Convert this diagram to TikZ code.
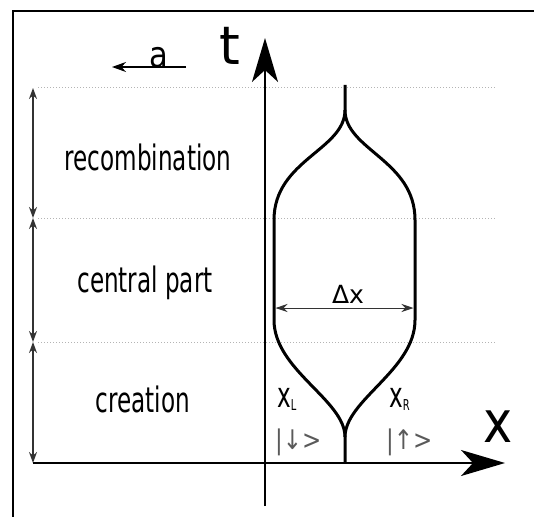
\documentclass[tikz,border=0pt]{standalone}
\usepackage{fontspec}
\setmainfont{DejaVu Sans}
\newfontfamily\narrowfont[FakeStretch=0.66]{DejaVu Sans}
\newfontfamily\axisfont[FakeStretch=0.85]{DejaVu Sans}
\usetikzlibrary{positioning,arrows.meta}
\definecolor{cDots}{HTML}{B4B4B4}
\definecolor{cGuide}{HTML}{333333}
\definecolor{cKet}{HTML}{5A5A5A}

\begin{document}
\begin{tikzpicture}[x=1pt,y=-1pt,
    phase/.style={anchor=base,inner sep=0pt,font=\narrowfont\fontsize{35}{35}\selectfont},
    ket/.style={anchor=base,inner sep=0pt,text=cKet,font=\axisfont\fontsize{27}{27}\selectfont},
    axis/.style={line width=2pt,-{Stealth[length=44pt,width=26pt,inset=12pt]}},
    span/.style={cGuide,line width=1.3pt,{Stealth[length=11pt,width=8pt]}-{Stealth[length=11pt,width=8pt]}},
    level/.style={cDots,line width=1pt,dotted},
    world/.style={line width=3pt,line join=round}]
  \useasboundingbox (0,0) rectangle (534,516);
  % frame
  \coordinate (fb) at (13,517);
  \coordinate (fc) at (13,11);
  \coordinate (fr) at (535,11);
  \draw[line width=2pt] (fb) -- (fc) -- (fr);

  % time levels
  \foreach \y [count=\i] in {88,218,342}{
    \coordinate (l\i) at (38,\y);
    \coordinate (r\i) at (495,\y);
    \draw[level] (l\i) -- (r\i);
  }
  \coordinate (s0) at (33,88);
  \coordinate (s1) at (33,218);
  \coordinate (s2) at (33,342);
  \coordinate (s3) at (33,463);
  \draw[span] (s0) -- (s1);
  \draw[span] (s1) -- (s2);
  \draw[span] (s2) -- (s3);

  \node[phase] (rec) at (148,170) {recombination};
  \node[phase] (cen) at (145,292) {central part};
  \node[phase] (cre) at (143,412) {creation};

  % axes
  \coordinate (tb) at (265,506);
  \coordinate (tt) at (265,38);
  \coordinate (xt) at (505,463);
  \draw[axis] (tb) -- (tt);
  \draw[axis] (s3) -- (xt);
  \node[anchor=base,inner sep=0pt,font=\fontsize{53}{53}\selectfont] (tlab) at (230,65) {t};
  \node[anchor=base,inner sep=0pt,font=\axisfont\fontsize{58}{58}\selectfont] (xlab) at (498,442) {x};

  % drift
  \coordinate (a0) at (186,67);
  \coordinate (a1) at (112,67);
  \draw[line width=1.5pt,-{Stealth[length=14pt,width=10pt]}] (a0) -- (a1);
  \node[anchor=base,inner sep=0pt,font=\axisfont\fontsize{36}{36}\selectfont] (alab) at (159,68) {a};

  % world lines of the pair
  \coordinate (top) at (345,85);
  \coordinate (ct) at (345,110);
  \coordinate (cb) at (345,437);
  \coordinate (bot) at (345,463);
  \coordinate (lu) at (274,220);
  \coordinate (ll) at (274,320);
  \coordinate (ru) at (415,220);
  \coordinate (rl) at (415,320);
  \draw[world] (top) -- (ct) .. controls (345,150) and (274,160) .. (lu) -- (ll)
    .. controls (274,370) and (345,400) .. (cb) -- (bot);
  \draw[world] (ct) .. controls (345,150) and (415,160) .. (ru) -- (rl)
    .. controls (415,370) and (345,400) .. (cb);

  % width
  \coordinate (wl) at (275.5,308);
  \coordinate (wr) at (413.5,308);
  \draw[cGuide,line width=1pt,{Stealth[length=12pt,width=8pt]}-{Stealth[length=12pt,width=8pt]}] (wl) -- (wr);
  \node[anchor=base,inner sep=0pt,font=\fontsize{25}{25}\selectfont] (dx) at (348,303) {Δx};

  \node[phase,anchor=base west] (xL) at (277,407) {x\raisebox{-3pt}{\fontsize{15}{15}\selectfont L}};
  \node[phase,anchor=base west] (xR) at (389,407) {x\raisebox{-3pt}{\fontsize{15}{15}\selectfont R}};
  \node[ket,anchor=base west] (kd) at (275,449) {|↓>};
  \node[ket,anchor=base west] (ku) at (386,449) {|↑>};
\end{tikzpicture}
\end{document}
